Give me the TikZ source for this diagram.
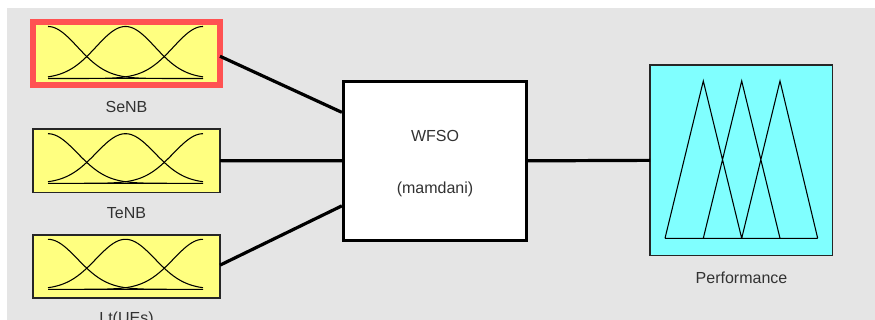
\documentclass[tikz,border=0pt]{standalone}
\usepackage{fontspec}
\setmainfont{Liberation Sans}
\usetikzlibrary{calc}
\begin{document}
\begin{tikzpicture}[x=0.75pt,y=-0.75pt,
  font=\fontsize{12pt}{14pt}\selectfont,
  every node/.style={inner sep=0pt, outer sep=0pt},
  lbl/.style={text=txtgray},
  inbox/.style={draw=black!85, line width=0.8pt, fill=fisyellow,
    minimum width=140.25pt},
  rulebox/.style={draw=black, line width=2.25pt, fill=white,
    minimum width=137.7pt, minimum height=119pt},
  outbox/.style={draw=black!85, line width=0.8pt, fill=fiscyan,
    minimum width=137pt, minimum height=143pt},
  wire/.style={line width=2.4pt, black},
  mf/.style={line width=0.8pt, black}
]
\definecolor{bggray}{RGB}{229,229,229}
\definecolor{fisyellow}{RGB}{255,255,128}
\definecolor{fiscyan}{RGB}{128,255,255}
\definecolor{selred}{RGB}{255,82,82}
\definecolor{txtgray}{RGB}{50,50,50}

\useasboundingbox (0,0) rectangle (875,320);
\clip (0,0) rectangle (875,320);
\fill[white] (0,0) rectangle (875,320);
\fill[bggray] (7,8) rectangle (875,320);

% input variable blocks
\node[inbox, minimum height=47.6pt] (senb) at (126.5,53.25) {};
\draw[selred, line width=4.5pt] (senb.south west) rectangle (senb.north east);
\node[inbox, minimum height=47.5pt] (tenb) at (126.5,160.65) {};
\node[inbox, minimum height=47.25pt] (lt) at (126.5,266.5) {};

% gaussian membership functions in each input block
\foreach \top/\base in {26.5/78.5, 133.7/183.3, 239.3/289.3}{
  \foreach \c in {48,125.5,203}{
    \draw[mf] plot[domain=48:203, samples=70, smooth]
      (\x, {\base - (\base-\top)*exp(-((\x-\c)/29.5)^2/2)});
  }
  \draw[mf, line width=1.1pt] (48,\base) -- (203,\base);
}

\node[lbl] (lsenb) at (126.5,107) {SeNB};
\node[lbl] (ltenb) at (126.5,213) {TeNB};
\node[lbl] (llt) at (126.5,319) {Lt(UEs)};

% rule block
\node[rulebox] (fis) at (435,160.85) {};
\node[lbl] (fisname) at (435,136) {WFSO};
\node[lbl] (fistype) at (435,189) {(mamdani)};

% output block with triangular membership functions
\node[outbox] (perf) at (741.35,160.35) {};
\draw[mf] (665,238.3) -- (703.3,81) -- (741.7,238.3)
          (703.3,238.3) -- (741.7,81) -- (780,238.3)
          (741.7,238.3) -- (780,81) -- (817.7,238.3)
          (665,238.3) -- (817.7,238.3);
\node[lbl] (lperf) at (741.5,277.7) {Performance};

% connectors
\coordinate (in1) at ($(fis.west)+(0,-48.5)$);
\coordinate (in3) at ($(fis.west)+(0,45)$);
\draw[wire] ([yshift=-2.25pt]senb.east) -- ([xshift=-1pt]in1);
\draw[wire] (tenb.east) -- (fis.west);
\draw[wire] ([yshift=1pt]lt.east) -- ([xshift=-1pt]in3);
\draw[wire] (fis.east) -- (perf.west);
\end{tikzpicture}
\end{document}
